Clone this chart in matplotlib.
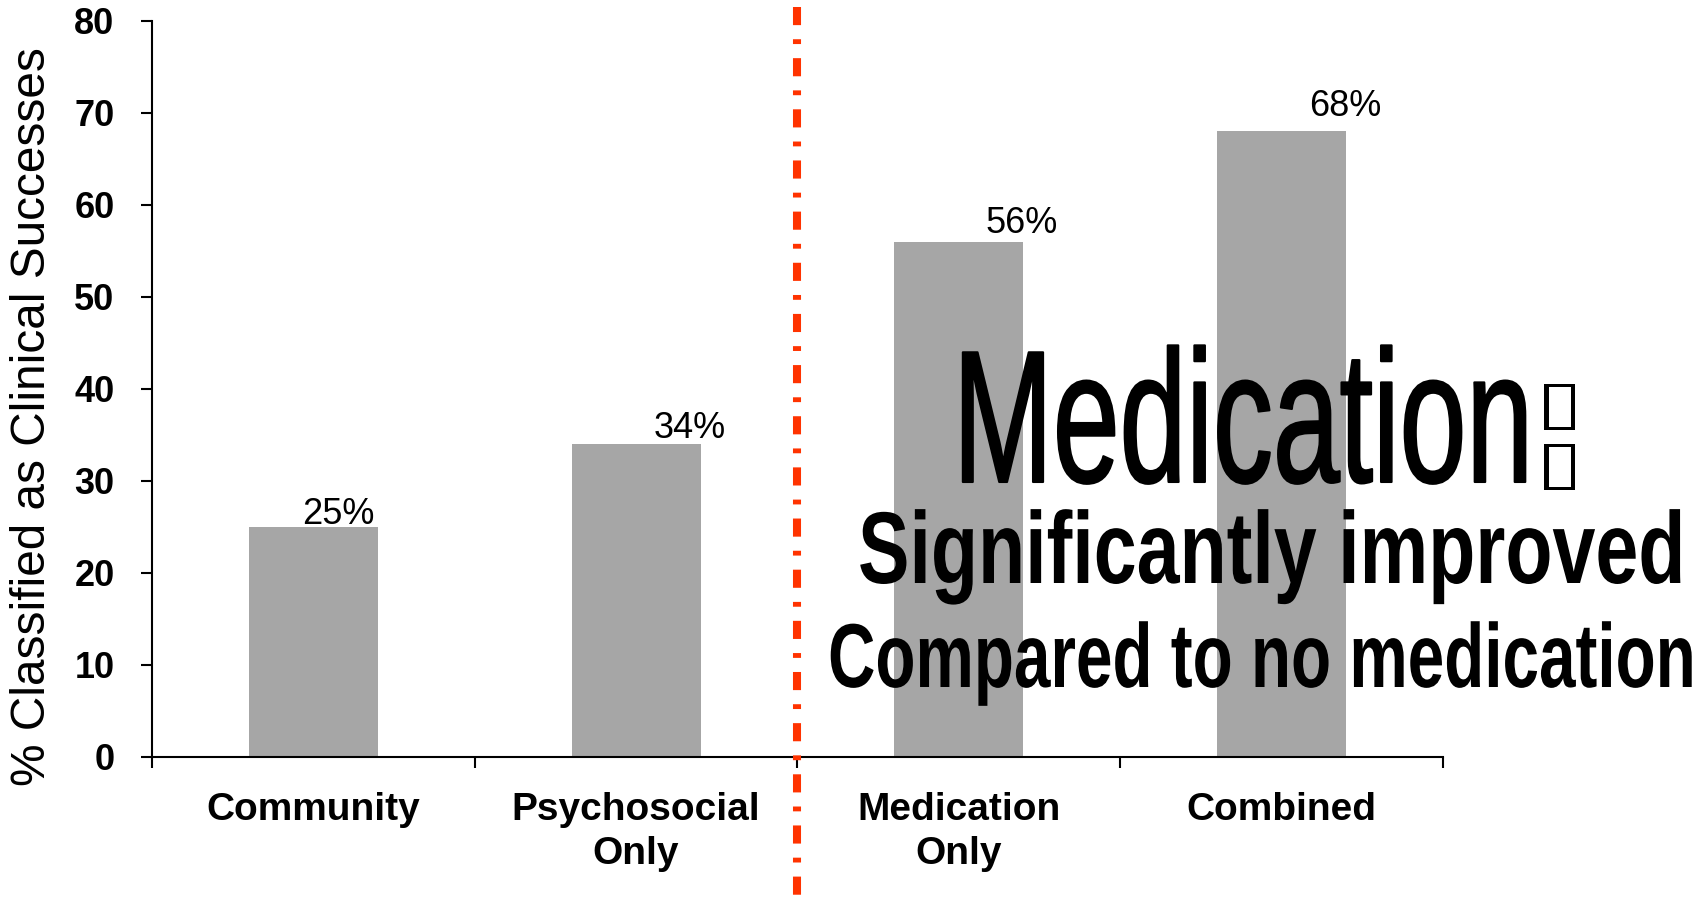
import matplotlib
matplotlib.use("Agg")
import matplotlib.pyplot as plt
from matplotlib import patheffects
from matplotlib.lines import Line2D
from matplotlib.transforms import Affine2D, blended_transform_factory

# ---------------- data ----------------
categories = ["Community", "Psychosocial\nOnly", "Medication\nOnly", "Combined"]
success_pct = [25, 34, 56, 68]
value_labels = ["25%", "34%", "56%", "68%"]
yticks = [0, 10, 20, 30, 40, 50, 60, 70, 80]
ylabel = "% Classified as Clinical Successes"
headline = ["Medication", "Significantly improved", "Compared to no medication"]

# where the value labels sit relative to the bar top centre (data units)
label_shift = [0.077, 0.167, 0.195, 0.198]
label_lift = [0.35, 0.68, 0.95, 1.65]

plt.rcParams["font.family"] = ["Liberation Sans", "DejaVu Sans"]

W, H, DPI = 1706, 908, 100
BAR_GREY = "#A6A6A6"
RED = "#FF3300"


class Stretch(patheffects.AbstractPathEffect):
    """draw text glyphs scaled about their origin (condensed look),
    optionally with an outline to thicken the strokes"""
    def __init__(self, sx=1.0, sy=1.0, lw=0.0):
        super().__init__()
        self.sx = sx
        self.sy = sy
        self.lw = lw

    def draw_path(self, renderer, gc, tpath, affine, rgbFace=None):
        gc0 = renderer.new_gc()
        gc0.copy_properties(gc)
        if self.lw > 0:
            gc0.set_linewidth(self.lw)
            gc0.set_foreground(rgbFace)
            gc0.set_joinstyle("round")
        renderer.draw_path(gc0, tpath, Affine2D().scale(self.sx, self.sy) + affine, rgbFace)
        gc0.restore()


fig = plt.figure(figsize=(W / DPI, H / DPI), dpi=DPI)
ax = fig.add_axes([152 / W, 1 - 757 / H, (1443 - 152) / W, (757 - 21) / H])

x = list(range(len(categories)))
ax.bar(x, success_pct, width=0.4, color=BAR_GREY, zorder=2)

for i, (v, lab) in enumerate(zip(success_pct, value_labels)):
    ax.text(i + label_shift[i], v + label_lift[i], lab, ha="center", va="baseline", fontsize=26)

ax.set_xlim(-0.5, len(categories) - 0.5)
ax.set_ylim(0, 80)
ax.set_yticks(yticks)
ax.set_yticklabels([str(t) for t in yticks], fontsize=26, fontweight="bold")

# boundary ticks (major) and category labels (minor)
ax.set_xticks([i - 0.5 for i in range(len(categories) + 1)])
ax.set_xticklabels([])
ax.set_xticks(x, minor=True)
ax.set_xticklabels(categories, minor=True, fontsize=28, fontweight="bold", linespacing=1.3)
ax.tick_params(axis="x", which="minor", length=0, pad=25)
ax.tick_params(axis="x", which="major", direction="out", length=8, width=1.5)
ax.tick_params(axis="y", direction="out", length=8, width=1.5, pad=19)

for s in ["top", "right"]:
    ax.spines[s].set_visible(False)
for s in ["left", "bottom"]:
    ax.spines[s].set_linewidth(1.5)

fig.text(33 / W, 1 - 417 / H, ylabel, rotation=90, ha="center", va="center", fontsize=34.4)

# red dash-dot divider between the two groups, running past the axes
trans = blended_transform_factory(ax.transData, fig.transFigure)
divider = Line2D([1.5, 1.5], [1 - 7 / H, 0], transform=trans, color=RED, lw=5.8,
                 dashes=(2.25, 1.75, 0.6, 1.75), dash_capstyle="butt", zorder=5)
fig.add_artist(divider)

# big overlay text, fitted to its width then stretched to its height
renderer = fig.canvas.get_renderer()


def headline_line(s, left, right, base, cap, weight, lw=0.0):
    t = fig.text(left / W, 1 - base / H, s, fontsize=40, fontweight=weight,
                 ha="left", va="baseline", zorder=10)
    w = t.get_window_extent(renderer).width
    fs = 40 * (right - left) / w
    t.set_fontsize(fs)
    sy = cap / (0.716 * fs * DPI / 72)
    t.set_path_effects([Stretch(1.0, sy, lw)])
    return t


headline_line(headline[0], 953, 1533, 482, 135, "normal", lw=1.5)
headline_line(headline[1], 858, 1684, 583, 73, "bold")
headline_line(headline[2], 828, 1694, 687, 65, "bold")

# the two missing-glyph boxes after "Medication"
for base in (423, 483):
    box = fig.text(1536 / W, 1 - base / H, "\u25af", ha="left", va="baseline",
                   fontsize=44, family="DejaVu Sans", zorder=10)
    box.set_path_effects([Stretch(1.4, 1.0)])

fig.savefig("out.png", dpi=DPI)
